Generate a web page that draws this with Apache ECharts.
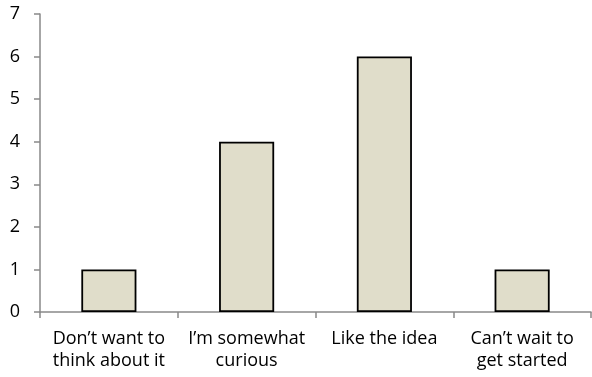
<!DOCTYPE html>
<html>
<head>
<meta charset="utf-8">
<script src="https://cdn.jsdelivr.net/npm/echarts@6/dist/echarts.min.js"></script>
<style>
html,body{margin:0;padding:0;background:#fff;}
#chart{width:592px;height:377px;}
</style>
</head>
<body>
<div id="chart"></div>
<script>
const categories = ["Don’t want to\nthink about it", "I’m somewhat\ncurious", "Like the idea", "Can’t wait to\nget started"];
const responses = [1, 4, 6, 1];
const yTicks = { min: 0, max: 7, interval: 1 };

const chart = echarts.init(document.getElementById('chart'));
const axisGrey = '#898989';
const font = "'Open Sans', 'Liberation Sans', sans-serif";
chart.setOption({
  animation: false,
  grid: { left: 40, right: 1, top: 14, bottom: 65 },
  xAxis: {
    type: 'category',
    data: categories,
    axisLine: { lineStyle: { color: axisGrey, width: 1.5 } },
    axisTick: { show: true, length: 6, alignWithLabel: false, lineStyle: { color: axisGrey, width: 1.5 } },
    axisLabel: { color: '#000', fontFamily: font, fontSize: 18, lineHeight: 22, margin: 16, interval: 0 }
  },
  yAxis: {
    type: 'value',
    min: yTicks.min, max: yTicks.max, interval: yTicks.interval,
    splitLine: { show: false },
    axisLine: { show: true, lineStyle: { color: axisGrey, width: 1.5 } },
    axisTick: { show: true, length: 6, lineStyle: { color: axisGrey, width: 1.5 } },
    axisLabel: { color: '#000', fontFamily: font, fontSize: 18, margin: 20 }
  },
  series: [{
    type: 'bar',
    data: responses,
    barWidth: '40%',
    itemStyle: { color: '#E0DDCA', borderColor: '#000', borderWidth: 1.8 }
  }]
});
</script>
</body>
</html>
